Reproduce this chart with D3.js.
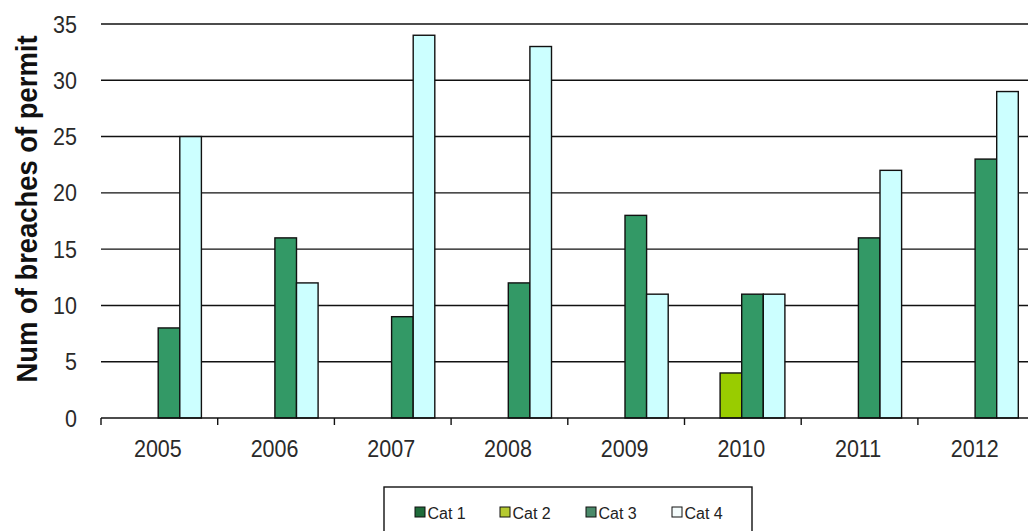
<!DOCTYPE html>
<html><head><meta charset="utf-8">
<script src="https://cdn.jsdelivr.net/npm/d3@7"></script>
<style>body{margin:0;background:#fff;} svg{display:block;font-family:"Liberation Sans",Arial,sans-serif;}</style>
</head><body><svg id="c" width="1028" height="531"></svg>
<script>
const years = ["2005","2006","2007","2008","2009","2010","2011","2012"];
const seriesNames = ["Cat 1","Cat 2","Cat 3","Cat 4"];
const cat1 = [0,0,0,0,0,0,0,0];
const cat2 = [0,0,0,0,0,4,0,0];
const cat3 = [8,16,9,12,18,11,16,23];
const cat4 = [25,12,34,33,11,11,22,29];
const colors = ["#1f6b3a","#99cc00","#339966","#ccffff"];
const legendColors = ["#1f6b3a","#b5c930","#4a8a6a","#f4fbfb"];
const yTicks = [0,5,10,15,20,25,30,35];
const allSeries = [cat1,cat2,cat3,cat4];

const svg = d3.select("#c");
const plotLeft = 101, bandW = 116.7, plotTop = 24, plotBottom = 418;
const x = d3.scaleBand().domain(years).range([plotLeft, plotLeft + bandW*years.length]).padding(0);
const x1 = d3.scaleBand().domain(seriesNames).range([14, 14 + 4*21.6]).padding(0);
const y = d3.scaleLinear().domain([0,35]).range([plotBottom, plotTop]);

// gridlines
svg.append("g").selectAll("line").data(yTicks.filter(d=>d>0)).join("line")
  .attr("x1", plotLeft).attr("x2", 1028).attr("y1", d=>y(d)).attr("y2", d=>y(d))
  .attr("stroke","#111").attr("stroke-width",1.4);

// y tick labels
svg.append("g").selectAll("text").data(yTicks).join("text")
  .attr("transform", d=>`translate(77,${y(d)+8.5}) scale(1,1.08)`).attr("text-anchor","end")
  .attr("font-size",21.5).attr("fill","#2a2a2a").text(d=>d);

// bars
const data = [];
years.forEach((yr,i)=>seriesNames.forEach((s,j)=>{ if(allSeries[j][i]>0) data.push({yr,s,j,v:allSeries[j][i]}); }));
svg.append("g").selectAll("rect").data(data).join("rect")
  .attr("x", d=>x(d.yr)+x1(d.s)).attr("width", x1.bandwidth())
  .attr("y", d=>y(d.v)).attr("height", d=>y(0)-y(d.v))
  .attr("fill", d=>colors[d.j]).attr("stroke","#111").attr("stroke-width",1.4);

// x axis
svg.append("line").attr("x1",plotLeft).attr("x2",1028).attr("y1",plotBottom).attr("y2",plotBottom)
  .attr("stroke","#111").attr("stroke-width",1.4);
svg.append("g").selectAll("line").data(d3.range(years.length+1)).join("line")
  .attr("x1", i=>plotLeft+i*bandW).attr("x2", i=>plotLeft+i*bandW).attr("y1",plotBottom).attr("y2",plotBottom+7)
  .attr("stroke","#111").attr("stroke-width",1.4);
svg.append("g").selectAll("text").data(years).join("text")
  .attr("transform", d=>`translate(${x(d)+x.bandwidth()/2 - 1.5},457) scale(1,1.08)`).attr("text-anchor","middle")
  .attr("font-size",21.5).attr("fill","#2a2a2a").text(d=>d);

// y title
svg.append("text").attr("transform","translate(37,209) rotate(-90) scale(1,1.1)").attr("text-anchor","middle")
  .attr("font-size",27.4).attr("font-weight","bold").attr("fill","#111").text("Num of breaches of permit");

// legend
svg.append("rect").attr("x",384).attr("y",487).attr("width",368).attr("height",60)
  .attr("fill","#fff").attr("stroke","#111").attr("stroke-width",1.4);
const lx = [415,500,586,672];
const lg = svg.append("g").selectAll("g").data(seriesNames).join("g")
  .attr("transform",(d,i)=>`translate(${lx[i]},512)`);
lg.append("rect").attr("x",0).attr("y",-5).attr("width",10).attr("height",10)
  .attr("fill",(d,i)=>legendColors[i]).attr("stroke","#111").attr("stroke-width",1);
lg.append("text").attr("x",12.5).attr("y",6.5).attr("font-size",16)
  .attr("fill","#222").text(d=>d);
</script></body></html>
